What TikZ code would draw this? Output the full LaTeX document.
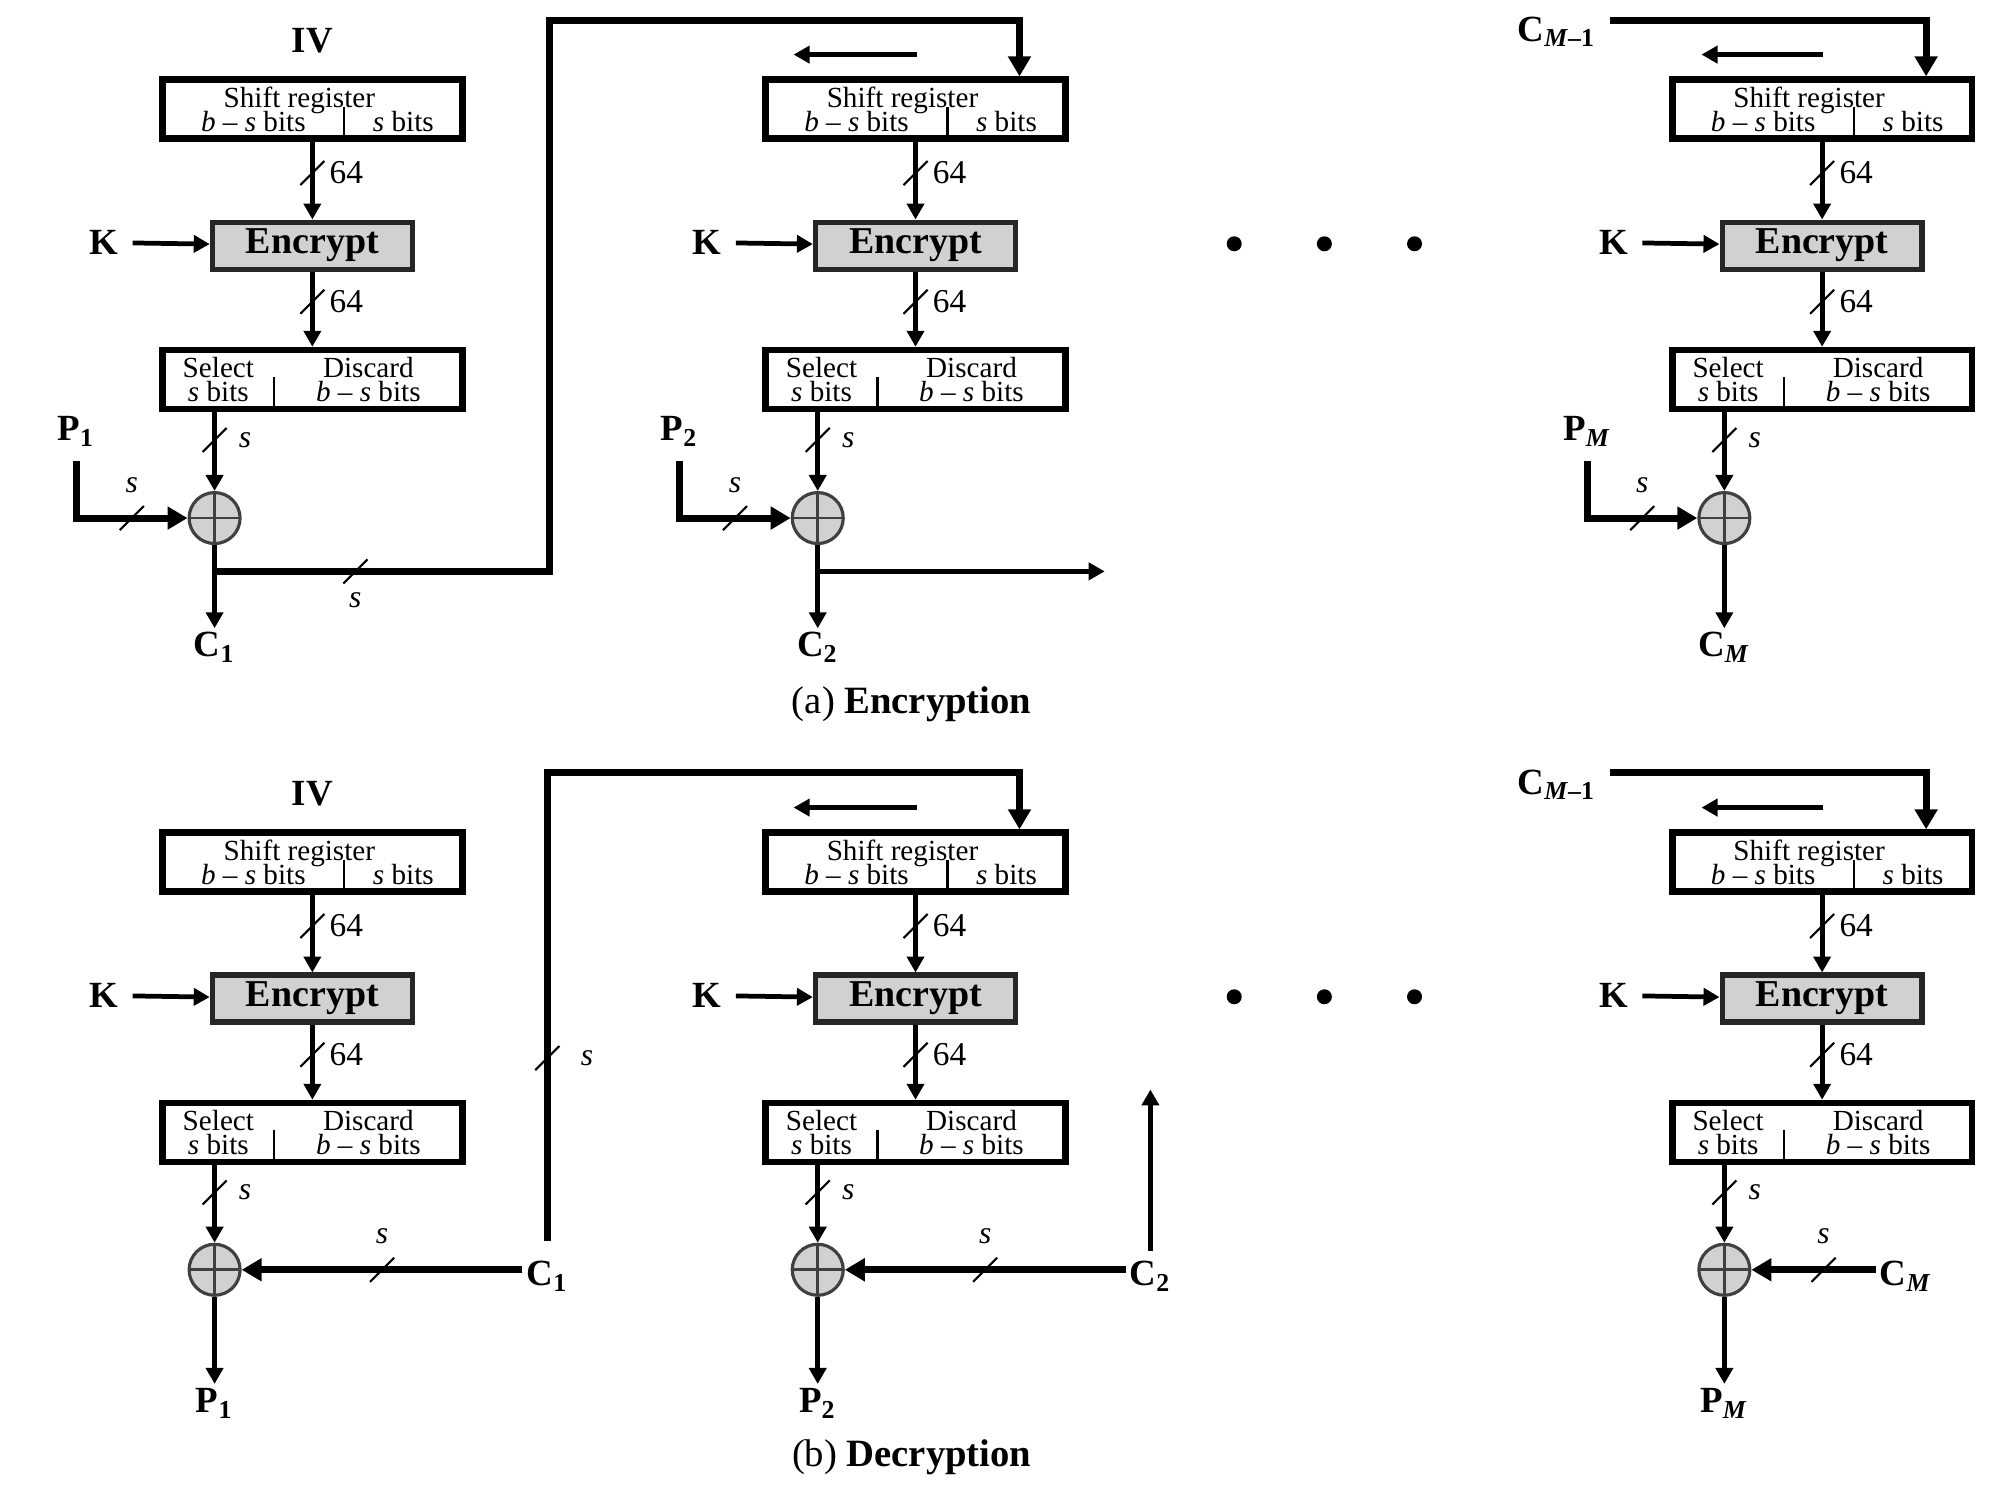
\documentclass[tikz,border=0pt]{standalone}
\usepackage{fontspec}
\setmainfont{Liberation Serif}
\usetikzlibrary{arrows.meta, positioning, calc}

\newcommand{\shifttext}{\hspace*{-2.6mm}Shift register\\\makebox[18.2mm]{\textit{b} -- \textit{s} bits}\makebox[11.8mm]{\textit{s} bits}}
\newcommand{\seltext}{\makebox[11.2mm]{Select}\makebox[18.8mm]{Discard}\\\makebox[11.2mm]{\textit{s} bits}\makebox[18.8mm]{\textit{b} -- \textit{s} bits}}

\tikzstyle{shiftreg} = [rectangle, draw=black, line width=1.9pt, minimum width=30mm, minimum height=5.9mm, inner sep=0pt, align=center, font={\fontsize{8.3}{6.9}\selectfont\lineskiplimit=-5pt}, path picture={\draw[line width=0.6pt] ([xshift=18.2mm]path picture bounding box.south west) -- ++(0,3.2mm);}]
\tikzstyle{selbox} = [rectangle, draw=black, line width=1.9pt, minimum width=30mm, minimum height=5.9mm, inner sep=0pt, align=center, font={\fontsize{8.3}{6.9}\selectfont\lineskiplimit=-5pt}, path picture={\draw[line width=0.6pt] ([xshift=11.2mm]path picture bounding box.south west) -- ++(0,3.2mm);}]
\tikzstyle{enc} = [rectangle, draw=black!85, fill=black!18, line width=1.5pt, minimum width=20mm, minimum height=4.7mm, inner sep=0pt, font=\fontsize{10.8}{12}\selectfont\bfseries]
\tikzstyle{xor} = [circle, draw=black!75, fill=black!18, line width=0.9pt, minimum size=5.1mm, inner sep=0pt, path picture={\draw[black!75, line width=0.8pt] (path picture bounding box.north) -- (path picture bounding box.south) (path picture bounding box.west) -- (path picture bounding box.east);}]
\tikzstyle{arrow} = [line width=1.35pt, -{Triangle[length=1.6mm, width=1.7mm]}]
\tikzstyle{heavy} = [line width=2pt, -{Triangle[length=2mm, width=2.2mm]}]
\tikzstyle{bus} = [rotate=45, inner sep=0pt, execute at begin node={\rule{3.4mm}{0.6pt}}]
\tikzstyle{lab} = [font=\fontsize{10.5}{12}\selectfont\bfseries, inner sep=1pt]
\tikzstyle{wid} = [font=\fontsize{9.5}{11}\selectfont, inner sep=0pt]
\tikzstyle{slab} = [font=\fontsize{9}{10}\selectfont\itshape, inner sep=0pt]
\tikzstyle{captxt} = [font=\fontsize{11}{13}\selectfont]
\tikzstyle{bigdot} = [circle, fill=black, inner sep=0pt, minimum size=1.5mm]

\begin{document}
\begin{tikzpicture}[x=0.127mm, y=-0.127mm]
  \useasboundingbox (0,0) rectangle (1568,1188);

  % (a) Encryption, column 1
  \node[lab] (iv1) at (246,32) {IV};
  \node[shiftreg] (sr1) at (246,86) {\shifttext};
  \node[enc, below=7.75mm of sr1] (enc1) {Encrypt};
  \node[selbox, below=7.5mm of enc1] (sel1) {\seltext};
  \node[xor] (x1) at (169,408) {};
  \node[lab] (k1) at (82,191) {K};
  \node[lab] (p1) at (60,340) {P\textsubscript{1}};
  \node[lab] (c1) at (169,510) {C\textsubscript{1}};
  \coordinate (j1) at (169,450);
  \coordinate (fb1) at (433,16);

  % column 2
  \node[shiftreg] (sr2) at (721,86) {\shifttext};
  \node[enc, below=7.75mm of sr2] (enc2) {Encrypt};
  \node[selbox, below=7.5mm of enc2] (sel2) {\seltext};
  \node[xor] (x2) at (644,408) {};
  \node[lab] (k2) at (557,191) {K};
  \node[lab] (p2) at (535,340) {P\textsubscript{2}};
  \node[lab] (c2) at (644,510) {C\textsubscript{2}};
  \coordinate (j2) at (644,450);
  \coordinate (o2) at (870,450);
  \coordinate (sh2a) at (722,43);
  \coordinate (sh2b) at (625,43);

  % dots
  \node[bigdot] (d1) at (972,192) {};
  \node[bigdot] (d2) at (1043,192) {};
  \node[bigdot] (d3) at (1114,192) {};

  % column M
  \node[lab] (cm1) at (1226,25) {C\textsubscript{\textit{M}–1}};
  \node[shiftreg] (sr3) at (1435,86) {\shifttext};
  \node[enc, below=7.75mm of sr3] (enc3) {Encrypt};
  \node[selbox, below=7.5mm of enc3] (sel3) {\seltext};
  \node[xor] (x3) at (1358,408) {};
  \node[lab] (k3) at (1271,191) {K};
  \node[lab] (p3) at (1250,340) {P\textsubscript{\textit{M}}};
  \node[lab] (c3) at (1358,510) {C\textsubscript{\textit{M}}};
  \coordinate (fb3) at (1268,16);
  \coordinate (sh3a) at (1436,43);
  \coordinate (sh3b) at (1340,43);

  \node[captxt] (capa) at (718,555) {(a) \textbf{Encryption}};

  % arrows (a)
  \draw[arrow] (sr1) -- node[bus, pos=0.4] {} node[wid, pos=0.4, right=1.5mm] {64} (enc1);
  \draw[arrow] (enc1) -- node[bus, pos=0.4] {} node[wid, pos=0.4, right=1.5mm] {64} (sel1);
  \draw[arrow] (sel1.south -| x1) -- node[bus, pos=0.35] {} node[slab, pos=0.35, right=2.2mm] {s} (x1);
  \draw[arrow, shorten <=1mm] (k1) -- (enc1);
  \draw[heavy, shorten <=1mm] (p1.south) |- node[bus, pos=0.75] {} node[slab, pos=0.75, above=2.2mm] {s} (x1);
  \draw[arrow] (x1) -- (c1);
  \draw[heavy] (j1) -| node[bus, pos=0.21] {} node[slab, pos=0.21, below=1.8mm] {s} (fb1) -| ([xshift=10.4mm]sr2.north);

  \draw[arrow] (sh2a) -- (sh2b);
  \draw[arrow] (sr2) -- node[bus, pos=0.4] {} node[wid, pos=0.4, right=1.5mm] {64} (enc2);
  \draw[arrow] (enc2) -- node[bus, pos=0.4] {} node[wid, pos=0.4, right=1.5mm] {64} (sel2);
  \draw[arrow] (sel2.south -| x2) -- node[bus, pos=0.35] {} node[slab, pos=0.35, right=2.2mm] {s} (x2);
  \draw[arrow, shorten <=1mm] (k2) -- (enc2);
  \draw[heavy, shorten <=1mm] (p2.south) |- node[bus, pos=0.75] {} node[slab, pos=0.75, above=2.2mm] {s} (x2);
  \draw[arrow] (x2) -- (c2);
  \draw[arrow] (j2) -- (o2);

  \draw[heavy] (fb3) -| ([xshift=10.4mm]sr3.north);
  \draw[arrow] (sh3a) -- (sh3b);
  \draw[arrow] (sr3) -- node[bus, pos=0.4] {} node[wid, pos=0.4, right=1.5mm] {64} (enc3);
  \draw[arrow] (enc3) -- node[bus, pos=0.4] {} node[wid, pos=0.4, right=1.5mm] {64} (sel3);
  \draw[arrow] (sel3.south -| x3) -- node[bus, pos=0.35] {} node[slab, pos=0.35, right=2.2mm] {s} (x3);
  \draw[arrow, shorten <=1mm] (k3) -- (enc3);
  \draw[heavy, shorten <=1mm] (p3.south) |- node[bus, pos=0.75] {} node[slab, pos=0.75, above=2.2mm] {s} (x3);
  \draw[arrow] (x3) -- (c3);

  % (b) Decryption, column 1
  \node[lab] (div1) at (246,625) {IV};
  \node[shiftreg] (dsr1) at (246,679) {\shifttext};
  \node[enc, below=7.75mm of dsr1] (denc1) {Encrypt};
  \node[selbox, below=7.5mm of denc1] (dsel1) {\seltext};
  \node[xor] (dx1) at (169,1000) {};
  \node[lab] (dk1) at (82,784) {K};
  \node[lab] (dp1) at (169,1105) {P\textsubscript{1}};
  \node[lab] (dc1) at (431,1005) {C\textsubscript{1}};
  \coordinate (dfb1) at (433,608);

  % column 2
  \node[shiftreg] (dsr2) at (721,679) {\shifttext};
  \node[enc, below=7.75mm of dsr2] (denc2) {Encrypt};
  \node[selbox, below=7.5mm of denc2] (dsel2) {\seltext};
  \node[xor] (dx2) at (644,1000) {};
  \node[lab] (dk2) at (557,784) {K};
  \node[lab] (dp2) at (644,1105) {P\textsubscript{2}};
  \node[lab] (dc2) at (906,1005) {C\textsubscript{2}};
  \coordinate (up2) at (906,858);
  \coordinate (dsh2a) at (722,636);
  \coordinate (dsh2b) at (625,636);

  % dots
  \node[bigdot] (dd1) at (972,785) {};
  \node[bigdot] (dd2) at (1043,785) {};
  \node[bigdot] (dd3) at (1114,785) {};

  % column M
  \node[lab] (dcm1) at (1226,618) {C\textsubscript{\textit{M}–1}};
  \node[shiftreg] (dsr3) at (1435,679) {\shifttext};
  \node[enc, below=7.75mm of dsr3] (denc3) {Encrypt};
  \node[selbox, below=7.5mm of denc3] (dsel3) {\seltext};
  \node[xor] (dx3) at (1358,1000) {};
  \node[lab] (dk3) at (1271,784) {K};
  \node[lab] (dp3) at (1358,1105) {P\textsubscript{\textit{M}}};
  \node[lab] (dc3) at (1501,1005) {C\textsubscript{\textit{M}}};
  \coordinate (dfb3) at (1268,608);
  \coordinate (dsh3a) at (1436,636);
  \coordinate (dsh3b) at (1340,636);

  \node[captxt] (capb) at (718,1148) {(b) \textbf{Decryption}};

  % arrows (b)
  \draw[arrow] (dsr1) -- node[bus, pos=0.4] {} node[wid, pos=0.4, right=1.5mm] {64} (denc1);
  \draw[arrow] (denc1) -- node[bus, pos=0.4] {} node[wid, pos=0.4, right=1.5mm] {64} (dsel1);
  \draw[arrow] (dsel1.south -| dx1) -- node[bus, pos=0.35] {} node[slab, pos=0.35, right=2.2mm] {s} (dx1);
  \draw[arrow, shorten <=1mm] (dk1) -- (denc1);
  \draw[heavy] (dc1.west |- dx1) -- node[bus] {} node[slab, above=2.2mm] {s} (dx1);
  \draw[arrow] (dx1) -- (dp1);
  \draw[heavy, shorten <=1.6mm] (dc1.north) -- node[bus, pos=0.41] {} node[slab, pos=0.41, right=3mm] {s} (dc1.north |- dfb1) -| ([xshift=10.4mm]dsr2.north);

  \draw[arrow] (dsh2a) -- (dsh2b);
  \draw[arrow] (dsr2) -- node[bus, pos=0.4] {} node[wid, pos=0.4, right=1.5mm] {64} (denc2);
  \draw[arrow] (denc2) -- node[bus, pos=0.4] {} node[wid, pos=0.4, right=1.5mm] {64} (dsel2);
  \draw[arrow] (dsel2.south -| dx2) -- node[bus, pos=0.35] {} node[slab, pos=0.35, right=2.2mm] {s} (dx2);
  \draw[arrow, shorten <=1mm] (dk2) -- (denc2);
  \draw[heavy] (dc2.west |- dx2) -- node[bus] {} node[slab, above=2.2mm] {s} (dx2);
  \draw[arrow] (dx2) -- (dp2);
  \draw[arrow, shorten <=0.6mm] (dc2.north) -- (up2);

  \draw[heavy] (dfb3) -| ([xshift=10.4mm]dsr3.north);
  \draw[arrow] (dsh3a) -- (dsh3b);
  \draw[arrow] (dsr3) -- node[bus, pos=0.4] {} node[wid, pos=0.4, right=1.5mm] {64} (denc3);
  \draw[arrow] (denc3) -- node[bus, pos=0.4] {} node[wid, pos=0.4, right=1.5mm] {64} (dsel3);
  \draw[arrow] (dsel3.south -| dx3) -- node[bus, pos=0.35] {} node[slab, pos=0.35, right=2.2mm] {s} (dx3);
  \draw[arrow, shorten <=1mm] (dk3) -- (denc3);
  \draw[heavy] (dc3.west |- dx3) -- node[bus, pos=0.42] {} node[slab, pos=0.42, above=2.2mm] {s} (dx3);
  \draw[arrow] (dx3) -- (dp3);
\end{tikzpicture}
\end{document}
